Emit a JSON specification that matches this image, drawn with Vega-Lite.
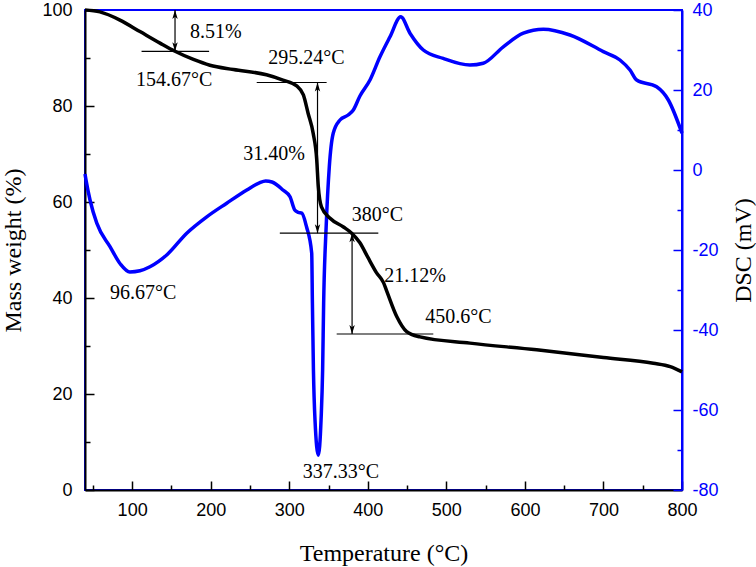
{
  "$schema": "https://vega.github.io/schema/vega-lite/v6.json",
  "width": 597,
  "height": 480,
  "autosize": "none",
  "padding": {"left": 85, "top": 10, "right": 74, "bottom": 77},
  "background": "white",
  "config": {
    "view": {"stroke": "#0000ff", "strokeWidth": 2},
    "axis": {"grid": false, "labelOverlap": false, "labelFlush": false}
  },
  "datasets": {
    "tga": [
      {"T": 40, "w": 100}, {"T": 59, "w": 99.6}, {"T": 84.5, "w": 97.9}, {"T": 110, "w": 95.5},
      {"T": 135.5, "w": 93.1}, {"T": 154.6, "w": 91.4}, {"T": 178, "w": 89.7}, {"T": 199, "w": 88.5},
      {"T": 229, "w": 87.6}, {"T": 271, "w": 86.5}, {"T": 292, "w": 85.4}, {"T": 309.5, "w": 84.2},
      {"T": 318, "w": 82.3}, {"T": 324, "w": 78.5}, {"T": 330.5, "w": 74.3}, {"T": 335, "w": 68.8},
      {"T": 337, "w": 63.2}, {"T": 341, "w": 59.0}, {"T": 352, "w": 56.6}, {"T": 369, "w": 54.8},
      {"T": 379.5, "w": 53.5}, {"T": 390, "w": 51.5}, {"T": 400, "w": 48.5}, {"T": 411, "w": 45.3},
      {"T": 420, "w": 43.2}, {"T": 424, "w": 41.5}, {"T": 437, "w": 36.1}, {"T": 449.5, "w": 33.0},
      {"T": 466.5, "w": 31.9}, {"T": 530, "w": 30.6}, {"T": 615, "w": 29.2}, {"T": 700, "w": 27.6},
      {"T": 763.5, "w": 26.4}, {"T": 785, "w": 25.7}, {"T": 800, "w": 24.6}
    ],
    "dsc": [
      {"T": 40, "d": -1}, {"T": 41.3, "d": -2.5}, {"T": 46.4, "d": -7.5}, {"T": 55, "d": -13.3},
      {"T": 72, "d": -19.2}, {"T": 85, "d": -23.5}, {"T": 97, "d": -25.5}, {"T": 110, "d": -25.2},
      {"T": 122.7, "d": -24.2}, {"T": 144, "d": -21.25}, {"T": 169.5, "d": -15.8}, {"T": 195, "d": -11.7},
      {"T": 220.4, "d": -8.3}, {"T": 246, "d": -5}, {"T": 262, "d": -3.2}, {"T": 270, "d": -2.75},
      {"T": 278, "d": -3.0}, {"T": 292, "d": -5}, {"T": 301, "d": -6.7}, {"T": 307, "d": -10},
      {"T": 311.5, "d": -10.6}, {"T": 316, "d": -10.8}, {"T": 322, "d": -14.2}, {"T": 328.6, "d": -20.8},
      {"T": 329.5, "d": -33.3}, {"T": 330.8, "d": -50}, {"T": 332.8, "d": -62.5}, {"T": 337, "d": -71.3},
      {"T": 340.5, "d": -62.5}, {"T": 342.5, "d": -50}, {"T": 343.8, "d": -33.3}, {"T": 347, "d": -14.2},
      {"T": 351, "d": 0.8}, {"T": 356, "d": 9.2}, {"T": 364.6, "d": 12.5}, {"T": 375, "d": 13.75},
      {"T": 381.6, "d": 15}, {"T": 390, "d": 18.5}, {"T": 402.8, "d": 22.5}, {"T": 415.5, "d": 28.3},
      {"T": 428.3, "d": 33.3}, {"T": 441.9, "d": 38.3}, {"T": 453.7, "d": 34.2}, {"T": 470.7, "d": 30},
      {"T": 496, "d": 27.9}, {"T": 530, "d": 26.25}, {"T": 547, "d": 26.7}, {"T": 572.5, "d": 30.8},
      {"T": 598, "d": 34.2}, {"T": 623.5, "d": 35.2}, {"T": 657.4, "d": 33.75}, {"T": 699.8, "d": 29.6},
      {"T": 721, "d": 27.5}, {"T": 733.8, "d": 25}, {"T": 742.3, "d": 22.5}, {"T": 767.7, "d": 20.8},
      {"T": 782.6, "d": 17.5}, {"T": 800, "d": 9.2}
    ],
    "hl": [
      {"T": 112, "T2": 198, "w": 91.4},
      {"T": 258.6, "T2": 347.6, "w": 84.9},
      {"T": 288, "T2": 413.4, "w": 53.5},
      {"T": 360.4, "T2": 483.4, "w": 32.5}
    ],
    "vl": [
      {"T": 154.6, "w": 100, "w2": 91.4},
      {"T": 336, "w": 84.9, "w2": 53.5},
      {"T": 380, "w": 53.5, "w2": 32.5}
    ],
    "heads": [
      {"T": 154.6, "w": 100, "dir": "up"}, {"T": 154.6, "w": 91.4, "dir": "down"},
      {"T": 336, "w": 84.9, "dir": "up"}, {"T": 336, "w": 53.5, "dir": "down"},
      {"T": 380, "w": 53.5, "dir": "up"}, {"T": 380, "w": 32.5, "dir": "down"}
    ],
    "labels": [
      {"T": 206.5, "w": 95.5, "label": "8.51%"},
      {"T": 153.5, "w": 85.4, "label": "154.67°C"},
      {"T": 322, "w": 90, "label": "295.24°C"},
      {"T": 280.8, "w": 70.1, "label": "31.40%"},
      {"T": 412.4, "w": 57.3, "label": "380°C"},
      {"T": 460.1, "w": 44.6, "label": "21.12%"},
      {"T": 515.3, "w": 36.1, "label": "450.6°C"},
      {"T": 114.2, "w": 41, "label": "96.67°C"},
      {"T": 365.9, "w": 3.8, "label": "337.33°C"}
    ]
  },
  "encoding": {
    "x": {
      "field": "T", "type": "quantitative",
      "scale": {"domain": [40, 800], "nice": false, "zero": false},
      "axis": null
    }
  },
  "layer": [
    {
      "data": {"name": "dsc"},
      "mark": {"type": "line", "color": "#0000ff", "strokeWidth": 3.5, "interpolate": "monotone"},
      "encoding": {
        "x": {
          "field": "T", "type": "quantitative",
          "scale": {"domain": [40, 800], "nice": false, "zero": false},
          "axis": {
            "orient": "bottom",
            "title": "Temperature (°C)",
            "values": [100, 200, 300, 400, 500, 600, 700, 800],
            "labelExpr": "'' + datum.value",
            "ticks": false, "tickSize": 0,
            "labelPadding": 11.5,
            "domainColor": "black", "domainWidth": 2,
            "labelFont": "Liberation Sans", "labelFontSize": 18, "labelColor": "black",
            "titleFont": "Liberation Serif", "titleFontSize": 24, "titleFontWeight": "normal", "titleColor": "black",
            "titleX": 298.5, "titleY": 70, "titleAlign": "center", "titleBaseline": "alphabetic"
          }
        },
        "y": {
          "field": "d", "type": "quantitative",
          "scale": {"domain": [-80, 40], "nice": false, "zero": false},
          "axis": {
            "orient": "right",
            "title": "DSC (mV)",
            "values": [-80, -60, -40, -20, 0, 20, 40],
            "labelExpr": "'' + datum.value",
            "ticks": false, "tickSize": 0,
            "labelPadding": 10,
            "domainColor": "#0000ff", "domainWidth": 2,
            "labelFont": "Liberation Sans", "labelFontSize": 18, "labelColor": "#0000ff",
            "titleFont": "Liberation Serif", "titleFontSize": 24, "titleFontWeight": "normal", "titleColor": "black",
            "titleAngle": 270, "titleX": 61, "titleY": 240, "titleAlign": "center", "titleBaseline": "middle"
          }
        }
      }
    },
    {
      "encoding": {
        "y": {
          "field": "w", "type": "quantitative",
          "scale": {"domain": [0, 100], "nice": false, "zero": false},
          "axis": {
            "orient": "left",
            "title": "Mass weight (%)",
            "values": [0, 20, 40, 60, 80, 100],
            "labelExpr": "'' + datum.value",
            "ticks": false, "tickSize": 0,
            "labelPadding": 13,
            "domainColor": "black", "domainWidth": 2,
            "labelFont": "Liberation Sans", "labelFontSize": 18, "labelColor": "black",
            "titleFont": "Liberation Serif", "titleFontSize": 24, "titleFontWeight": "normal", "titleColor": "black",
            "titleAngle": 270, "titleX": -72, "titleY": 240, "titleAlign": "center", "titleBaseline": "middle"
          }
        }
      },
      "layer": [
        {
          "data": {"name": "hl"},
          "mark": {"type": "rule", "color": "black", "strokeWidth": 1.2},
          "encoding": {"x2": {"field": "T2"}}
        },
        {
          "data": {"name": "vl"},
          "mark": {"type": "rule", "color": "black", "strokeWidth": 1.2},
          "encoding": {"y2": {"field": "w2"}}
        },
        {
          "data": {"name": "heads"},
          "mark": {"type": "point", "filled": true, "color": "black", "opacity": 1, "size": 324},
          "encoding": {
            "shape": {
              "field": "dir", "type": "nominal", "legend": null,
              "scale": {"domain": ["up", "down"], "range": ["M0,0L-0.3,1L0,0.75L0.3,1Z", "M0,0L-0.3,-1L0,-0.75L0.3,-1Z"]}
            }
          }
        },
        {
          "data": {"name": "tga"},
          "mark": {"type": "line", "color": "black", "strokeWidth": 3.5, "interpolate": "monotone"}
        },
        {
          "data": {"name": "labels"},
          "mark": {"type": "text", "font": "Liberation Serif", "fontSize": 20, "color": "black", "align": "center", "baseline": "middle"},
          "encoding": {"text": {"field": "label", "type": "nominal"}}
        }
      ]
    },
    {
      "data": {"name": "tga"},
      "mark": {"type": "line", "opacity": 0},
      "encoding": {
        "x": {
          "field": "T", "type": "quantitative",
          "scale": {"domain": [40, 800], "nice": false, "zero": false},
          "axis": {
            "orient": "top", "offset": -480, "title": null,
            "values": [50, 100, 150, 200, 250, 300, 350, 400, 450, 500, 550, 600, 650, 700, 750, 800],
            "labels": false, "domain": false, "ticks": true,
            "tickSize": {"condition": {"test": "datum.value % 100 === 0", "value": 9}, "value": 5},
            "tickColor": "black", "tickWidth": 1.5
          }
        },
        "y": {
          "field": "w", "type": "quantitative",
          "scale": {"domain": [0, 100], "nice": false, "zero": false},
          "axis": {
            "orient": "right", "offset": -597, "title": null,
            "values": [0, 10, 20, 30, 40, 50, 60, 70, 80, 90, 100],
            "labels": false, "domain": false, "ticks": true,
            "tickSize": {"condition": {"test": "datum.value % 20 === 0", "value": 9}, "value": 5},
            "tickColor": "black", "tickWidth": 1.5
          }
        }
      }
    },
    {
      "data": {"name": "dsc"},
      "mark": {"type": "line", "opacity": 0},
      "encoding": {
        "y": {
          "field": "d", "type": "quantitative",
          "scale": {"domain": [-80, 40], "nice": false, "zero": false},
          "axis": {
            "orient": "left", "offset": -597, "title": null,
            "values": [-80, -70, -60, -50, -40, -30, -20, -10, 0, 10, 20, 30, 40],
            "labels": false, "domain": false, "ticks": true,
            "tickSize": {"condition": {"test": "datum.value % 20 === 0", "value": 9}, "value": 5},
            "tickColor": "#0000ff", "tickWidth": 1.5
          }
        }
      }
    }
  ],
  "resolve": {"scale": {"y": "independent"}, "axis": {"x": "independent"}}
}
